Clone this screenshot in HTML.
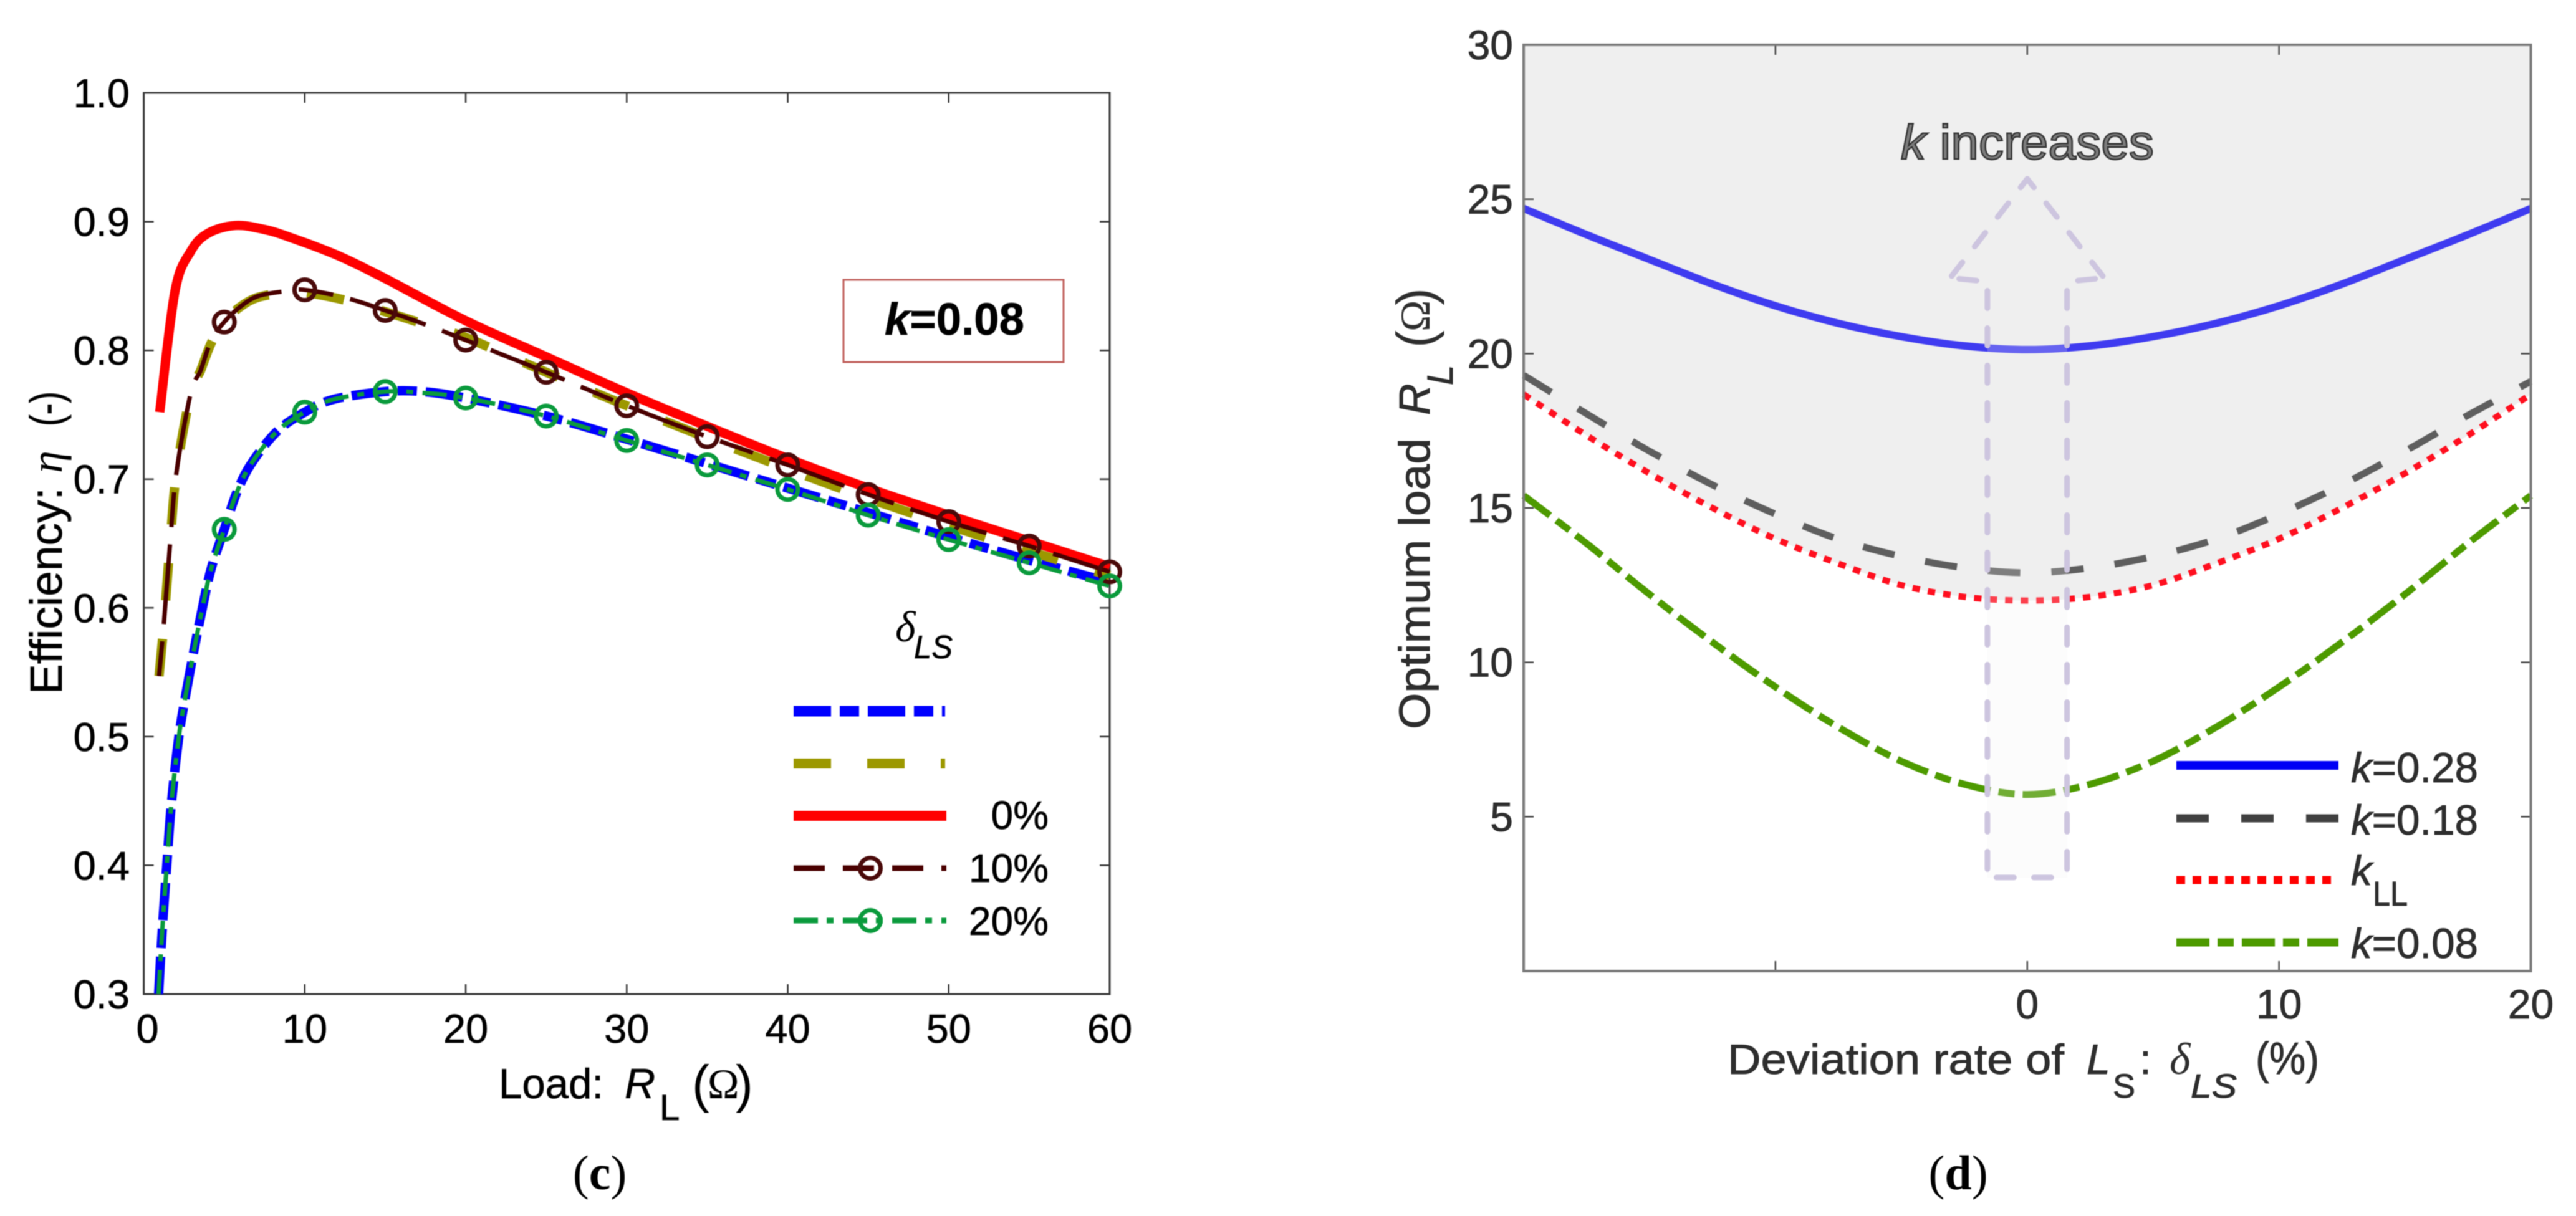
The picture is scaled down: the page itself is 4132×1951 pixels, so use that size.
<!DOCTYPE html>
<html lang="en">
<head>
<meta charset="utf-8">
<title>Efficiency and optimum load charts</title>
<style>
html,body{margin:0;padding:0;background:#fff;width:4132px;height:1951px;overflow:hidden}
svg{display:block;filter:blur(0.7px)}
text{font-family:"Liberation Sans",sans-serif;stroke:#1a1a1a;stroke-width:0.8px}
.serif{font-family:"Liberation Serif",serif}
.c-text{fill:#000}
.d-text{fill:#2e2e2e}
.thin{stroke-width:0}
</style>
</head>
<body>
<svg id="figure" xmlns="http://www.w3.org/2000/svg" width="4132" height="1951" viewBox="0 0 4132 1951">
  <rect x="0" y="0" width="4132" height="1951" fill="#fff"/>

  <g id="chart-c"></g>
  <g id="chart-d"></g>

  <!-- chart c labels -->
  <g transform="translate(99,1114) rotate(-90)" font-size="72" class="c-text">
    <text x="0" y="0" textLength="332" lengthAdjust="spacingAndGlyphs">Efficiency:</text>
    <text class="serif thin" x="355" y="0" font-style="italic">η</text>
    <text x="430" y="0" textLength="56" lengthAdjust="spacingAndGlyphs">(-)</text>
  </g>
  <g class="c-text">
    <text x="800" y="1762" font-size="68" textLength="168" lengthAdjust="spacingAndGlyphs">Load:</text>
    <text x="1002" y="1762" font-size="68" font-style="italic">R</text>
    <text x="1058" y="1797" font-size="58">L</text>
    <text class="thin" x="1110" y="1768" font-size="84">(</text>
    <text class="serif thin" x="1135" y="1762" font-size="68">Ω</text>
    <text class="thin" x="1180" y="1768" font-size="84">)</text>
  </g>
  <text class="serif thin" x="962" y="1908" font-size="78" text-anchor="middle">(<tspan font-weight="bold">c</tspan>)</text>

  <g>
    <rect x="1353" y="449" width="353" height="132" fill="#fff" stroke="#c0605c" stroke-width="3"/>
    <text x="1419" y="537" font-size="72" font-weight="bold" textLength="224" lengthAdjust="spacingAndGlyphs"><tspan font-style="italic">k</tspan>=0.08</text>
  </g>

  <g>
    <text class="serif thin" x="1436" y="1029" font-size="70" font-style="italic">δ</text>
    <text x="1466" y="1056" font-size="52" font-style="italic" textLength="62" lengthAdjust="spacingAndGlyphs">LS</text>
    <line x1="1273" x2="1516" y1="1141" y2="1141" stroke="#0000ff" stroke-width="17" stroke-dasharray="60 14 31 14"/>
    <line x1="1273" x2="1516" y1="1225" y2="1225" stroke="#9c9800" stroke-width="16" stroke-dasharray="60 58"/>
    <line x1="1273" x2="1518" y1="1309" y2="1309" stroke="#ff0000" stroke-width="16"/>
    <text x="1682" y="1330" font-size="64" text-anchor="end">0%</text>
    <line x1="1273" x2="1518" y1="1393" y2="1393" stroke="#4a0000" stroke-width="9" stroke-dasharray="50 29"/>
    <circle cx="1396" cy="1393" r="16.5" fill="none" stroke="#4a0a0a" stroke-width="7"/>
    <text x="1682" y="1415" font-size="64" text-anchor="end">10%</text>
    <line x1="1273" x2="1518" y1="1477" y2="1477" stroke="#0a9a3c" stroke-width="9" stroke-dasharray="39 14 11 15"/>
    <circle cx="1396" cy="1477" r="16.5" fill="none" stroke="#0a9a3c" stroke-width="7"/>
    <text x="1682" y="1500" font-size="64" text-anchor="end">20%</text>
  </g>

  <!-- chart d labels -->
  <g transform="translate(2293,1170) rotate(-90)" font-size="70" class="d-text">
    <text x="0" y="0" textLength="467" lengthAdjust="spacingAndGlyphs">Optimum load</text>
    <text x="504" y="0" font-style="italic">R</text>
    <text x="552" y="37" font-size="58" font-style="italic">L</text>
    <text class="thin" x="612" y="6" font-size="84">(</text>
    <text class="serif thin" x="638" y="0" font-size="68">Ω</text>
    <text class="thin" x="680" y="6" font-size="84">)</text>
  </g>
  <g class="d-text">
    <text x="2771" y="1723" font-size="68" textLength="540" lengthAdjust="spacingAndGlyphs">Deviation rate of</text>
    <text x="3347" y="1723" font-size="68" font-style="italic">L</text>
    <text x="3389" y="1761" font-size="54">S</text>
    <text x="3432" y="1723" font-size="68">:</text>
    <text class="serif thin" x="3480" y="1723" font-size="72" font-style="italic">δ</text>
    <text x="3514" y="1761" font-size="54" font-style="italic" textLength="74" lengthAdjust="spacingAndGlyphs">LS</text>
    <text x="3618" y="1723" font-size="72" textLength="102" lengthAdjust="spacingAndGlyphs">(%)</text>
  </g>
  <text class="serif thin" x="3141" y="1908" font-size="78" text-anchor="middle">(<tspan font-weight="bold">d</tspan>)</text>

  <text x="3049" y="255" font-size="78" fill="#7c7c7c" style="stroke:#343434;stroke-width:2.4px" textLength="406" lengthAdjust="spacingAndGlyphs"><tspan font-style="italic">k</tspan> increases</text>

  <g class="d-text">
    <line x1="3491" x2="3751" y1="1228" y2="1228" stroke="#0000f5" stroke-width="14"/>
    <text x="3771" y="1255" font-size="68" textLength="204" lengthAdjust="spacingAndGlyphs"><tspan font-style="italic">k</tspan>=0.28</text>
    <line x1="3491" x2="3751" y1="1313" y2="1313" stroke="#404040" stroke-width="13" stroke-dasharray="52 52"/>
    <text x="3771" y="1339" font-size="68" textLength="204" lengthAdjust="spacingAndGlyphs"><tspan font-style="italic">k</tspan>=0.18</text>
    <line x1="3491" x2="3740" y1="1412" y2="1412" stroke="#ff0000" stroke-width="13" stroke-dasharray="14 12"/>
    <text x="3771" y="1420" font-size="68" font-style="italic">k</text>
    <text x="3806" y="1453" font-size="56" textLength="56" lengthAdjust="spacingAndGlyphs">LL</text>
    <line x1="3491" x2="3751" y1="1512" y2="1512" stroke="#4d9a00" stroke-width="13" stroke-dasharray="53 13 26 13"/>
    <text x="3771" y="1537" font-size="68" textLength="204" lengthAdjust="spacingAndGlyphs"><tspan font-style="italic">k</tspan>=0.08</text>
  </g>
</svg>

<script>
// ---- chart (c) data ----
const redLoad = [0.99, 1.94, 2.92, 4.0, 5.68, 7.46, 9.04, 12, 14.96, 20, 25, 30, 35, 40, 45, 50, 55, 60];
const redEff = [0.752, 0.846, 0.877, 0.891, 0.897, 0.894, 0.888, 0.874, 0.856, 0.823, 0.795, 0.767, 0.741, 0.716, 0.693, 0.672, 0.652, 0.632];
const maroonLoad = [0.95, 1.25, 1.64, 2.03, 2.92, 3.52, 4.2, 5, 5.9, 7.06, 8.84, 10, 12.5, 15, 17.5, 20, 25, 30, 35, 40, 45, 50, 55, 60];
const maroonEff = [0.547, 0.588, 0.651, 0.705, 0.767, 0.784, 0.808, 0.822, 0.833, 0.842, 0.846, 0.847, 0.841, 0.831, 0.82, 0.808, 0.783, 0.757, 0.733, 0.711, 0.688, 0.667, 0.648, 0.628];
const oliveEff = [0.547, 0.588, 0.651, 0.705, 0.767, 0.784, 0.806, 0.822, 0.833, 0.841, 0.845, 0.845, 0.839, 0.83, 0.82, 0.81, 0.783, 0.757, 0.732, 0.708, 0.685, 0.664, 0.644, 0.625];
const greenLoad = [0.92, 1.15, 1.43, 1.73, 2.18, 2.57, 3.1, 3.71, 4.2, 5, 5.79, 6.68, 8.27, 10, 11.8, 15, 17.3, 20, 25, 30, 35, 40, 45, 50, 55, 60];
const greenEff = [0.30, 0.35, 0.40, 0.45, 0.50, 0.53, 0.566, 0.604, 0.631, 0.661, 0.69, 0.712, 0.737, 0.752, 0.762, 0.768, 0.767, 0.763, 0.749, 0.730, 0.711, 0.692, 0.672, 0.653, 0.635, 0.617];
const blueEff = [0.30, 0.35, 0.40, 0.45, 0.50, 0.53, 0.566, 0.604, 0.631, 0.661, 0.69, 0.712, 0.737, 0.752, 0.762, 0.768, 0.768, 0.763, 0.749, 0.731, 0.712, 0.693, 0.674, 0.655, 0.637, 0.62];
const markerLoad = [5, 10, 15, 20, 25, 30, 35, 40, 45, 50, 55, 60];
const markerMaroonEff = [0.822, 0.847, 0.831, 0.808, 0.783, 0.757, 0.733, 0.711, 0.688, 0.667, 0.648, 0.628];
const markerGreenEff = [0.661, 0.752, 0.768, 0.763, 0.749, 0.730, 0.711, 0.692, 0.672, 0.653, 0.635, 0.617];
const cXTicks = [0, 10, 20, 30, 40, 50, 60];
const cYTicks = [0.3, 0.4, 0.5, 0.6, 0.7, 0.8, 0.9, 1.0];
const cYTickLabels = ["0.3", "0.4", "0.5", "0.6", "0.7", "0.8", "0.9", "1.0"];

// ---- chart (d) data ----
const deviation = [-20, -17.5, -15, -12.5, -10, -7.5, -5, -2.5, 0, 2.5, 5, 7.5, 10, 12.5, 15, 17.5, 20];
const k028Load = [24.7, 23.85, 23.05, 22.25, 21.55, 20.98, 20.55, 20.25, 20.13, 20.25, 20.55, 20.98, 21.55, 22.25, 23.05, 23.85, 24.7];
const k018Load = [19.3, 18.05, 16.84, 15.75, 14.8, 13.99, 13.43, 13.06, 12.9, 13.06, 13.43, 13.99, 14.8, 15.75, 16.84, 18.0, 19.1];
const kllLoad = [18.68, 17.35, 16.12, 15.0, 14.0, 13.2, 12.5, 12.12, 12.0, 12.12, 12.5, 13.2, 14.0, 15.0, 16.12, 17.35, 18.68];
const k008Load = [15.4, 13.85, 12.2, 10.65, 9.2, 7.9, 6.8, 6.05, 5.72, 6.05, 6.8, 7.9, 9.2, 10.65, 12.2, 13.85, 15.4];
const dXTicks = [-20, -10, 0, 10, 20];
const dXTickLabels = ["", "", "0", "10", "20"];
const dYTicks = [0, 5, 10, 15, 20, 25, 30];
const dYTickLabels = ["", "5", "10", "15", "20", "25", "30"];
const arrowDev = [-1.58, -1.58, -3.06, 0, 3.06, 1.58, 1.58];
const arrowLoad = [3.03, 22.33, 22.45, 25.66, 22.45, 22.33, 3.03];

// ---- axis functions ----
const C = {l: 230.6, r: 1780, t: 149, b: 1595};
const D = {l: 2444, r: 4059.5, t: 72, b: 1558};
const xC = v => C.l + (v - 0) / 60 * (C.r - C.l);
const yC = v => C.b - (v - 0.3) / 0.7 * (C.b - C.t);
const xD = v => D.l + (v + 20) / 40 * (D.r - D.l);
const yD = v => D.b - v / 30 * (D.b - D.t);

const NS = 'http://www.w3.org/2000/svg';
function mk(parent, tag, attrs, txt) {
  const el = document.createElementNS(NS, tag);
  for (const k in attrs) el.setAttribute(k, attrs[k]);
  if (txt !== undefined) el.textContent = txt;
  parent.appendChild(el);
  return el;
}
function linePath(xs, ys, fx, fy) {
  return xs.map((v, i) => (i ? 'L' : 'M') + fx(v).toFixed(1) + ' ' + fy(ys[i]).toFixed(1)).join(' ');
}
function smoothPath(xs, ys, fx, fy) {
  const p = xs.map((v, i) => [fx(v), fy(ys[i])]);
  let d = 'M' + p[0][0].toFixed(1) + ' ' + p[0][1].toFixed(1);
  for (let i = 0; i < p.length - 1; i++) {
    const a = p[Math.max(i - 1, 0)], b = p[i], c = p[i + 1], e = p[Math.min(i + 2, p.length - 1)];
    d += ' C' + (b[0] + (c[0] - a[0]) / 6).toFixed(1) + ' ' + (b[1] + (c[1] - a[1]) / 6).toFixed(1) + ' ' +
         (c[0] - (e[0] - b[0]) / 6).toFixed(1) + ' ' + (c[1] - (e[1] - b[1]) / 6).toFixed(1) + ' ' +
         c[0].toFixed(1) + ' ' + c[1].toFixed(1);
  }
  return d;
}

// ---- chart (c) ----
const gc = document.getElementById('chart-c');
let el;
const TICK = 16;

cXTicks.forEach((v, i) => {
  el = mk(gc, 'line', {x1: xC(v), x2: xC(v), y1: C.b, y2: C.b - TICK, stroke: '#333', 'stroke-width': 2.5});
  
  
  el = mk(gc, 'line', {x1: xC(v), x2: xC(v), y1: C.t, y2: C.t + TICK, stroke: '#333', 'stroke-width': 2.5});
  
  
  el = mk(gc, 'text', {x: xC(v) + (v === 0 ? 6 : 0), y: 1673, 'font-size': 65, 'text-anchor': 'middle', fill: '#000'}, String(v));
  
  
});
cYTicks.forEach((v, i) => {
  el = mk(gc, 'line', {x1: C.l, x2: C.l + TICK, y1: yC(v), y2: yC(v), stroke: '#333', 'stroke-width': 2.5});
  
  
  el = mk(gc, 'line', {x1: C.r, x2: C.r - TICK, y1: yC(v), y2: yC(v), stroke: '#333', 'stroke-width': 2.5});
  
  
  el = mk(gc, 'text', {x: 208, y: yC(v) + 23, 'font-size': 65, 'text-anchor': 'end', fill: '#000'}, cYTickLabels[i]);
  
  
});
el = mk(gc, 'rect', {x: C.l, y: C.t, width: C.r - C.l, height: C.b - C.t, fill: 'none', stroke: '#3a3a3a', 'stroke-width': 3});



el = mk(gc, 'path', {d: smoothPath(greenLoad, blueEff, xC, yC), fill: 'none', stroke: '#0000ff', 'stroke-width': 15, 'stroke-dasharray': '60 14 31 14'});


el = mk(gc, 'path', {d: smoothPath(maroonLoad, oliveEff, xC, yC), fill: 'none', stroke: '#9c9800', 'stroke-width': 15, 'stroke-dasharray': '60 62'});


el = mk(gc, 'path', {d: smoothPath(redLoad, redEff, xC, yC), fill: 'none', stroke: '#ff0000', 'stroke-width': 15, 'stroke-linejoin': 'round'});


el = mk(gc, 'path', {d: smoothPath(maroonLoad, maroonEff, xC, yC), fill: 'none', stroke: '#4a0000', 'stroke-width': 7, 'stroke-dasharray': '128 28 56 28', 'stroke-dashoffset': 156});


el = mk(gc, 'path', {d: smoothPath(greenLoad, greenEff, xC, yC), fill: 'none', stroke: '#0a9a3c', 'stroke-width': 7, 'stroke-dasharray': '39 14 11 15'});



markerLoad.forEach((v, i) => {
  el = mk(gc, 'circle', {cx: xC(v), cy: yC(markerMaroonEff[i]), r: 16.5, fill: 'none', stroke: '#4a0a0a', 'stroke-width': 7});
  
  
  el = mk(gc, 'circle', {cx: xC(v), cy: yC(markerGreenEff[i]), r: 16.5, fill: 'none', stroke: '#0a9a3c', 'stroke-width': 7});
  
  
});

// ---- chart (d) ----
const gd = document.getElementById('chart-d');

const shade = smoothPath(deviation, kllLoad, xD, yD) + ' L' + xD(20) + ' ' + yD(30) + ' L' + xD(-20) + ' ' + yD(30) + ' Z';
el = mk(gd, 'path', {d: shade, fill: '#efefef'});



el = mk(gd, 'path', {d: smoothPath(deviation, k028Load, xD, yD), fill: 'none', stroke: '#3f3bf0', 'stroke-width': 12});


el = mk(gd, 'path', {d: smoothPath(deviation, k018Load, xD, yD), fill: 'none', stroke: '#5e5e5e', 'stroke-width': 11, 'stroke-dasharray': '52 50'});


el = mk(gd, 'path', {d: smoothPath(deviation, kllLoad, xD, yD), fill: 'none', stroke: '#ff0f1f', 'stroke-width': 10, 'stroke-dasharray': '12 13'});


el = mk(gd, 'path', {d: smoothPath(deviation, k008Load, xD, yD), fill: 'none', stroke: '#4d9a00', 'stroke-width': 11, 'stroke-dasharray': '53 13 26 13'});



// arrow: fill first, then separately dashed outline pieces
el = mk(gd, 'path', {d: linePath(arrowDev, arrowLoad, xD, yD) + ' Z', fill: 'rgba(240,240,240,0.22)'});


const arrowStroke = {fill: 'none', stroke: '#cdc5df', 'stroke-width': 9, 'stroke-dasharray': '28 32', 'stroke-linecap': 'round'};
function arrowPiece(idx, offset) {
  return mk(gd, 'path', Object.assign({d: linePath(idx.map(i => arrowDev[i]), idx.map(i => arrowLoad[i]), xD, yD), 'stroke-dashoffset': offset}, arrowStroke));
}
el = arrowPiece([1, 0], -14.5);


el = arrowPiece([5, 6], -14.5);


el = arrowPiece([3, 2], 10.5);


el = arrowPiece([3, 4], 10.5);


el = arrowPiece([2, 1], -14.5);


el = arrowPiece([4, 5], -14.5);


el = arrowPiece([0, 6], -14.5);



dXTicks.forEach((v, i) => {
  el = mk(gd, 'line', {x1: xD(v), x2: xD(v), y1: D.b, y2: D.b - TICK, stroke: '#444', 'stroke-width': 2.5});
  
  
  el = mk(gd, 'line', {x1: xD(v), x2: xD(v), y1: D.t, y2: D.t + TICK, stroke: '#444', 'stroke-width': 2.5});
  
  
  if (dXTickLabels[i]) {
    el = mk(gd, 'text', {x: xD(v), y: 1634, 'font-size': 66, 'text-anchor': 'middle', fill: '#2e2e2e'}, dXTickLabels[i]);
    
    
  }
});
dYTicks.forEach((v, i) => {
  el = mk(gd, 'line', {x1: D.l, x2: D.l + TICK, y1: yD(v), y2: yD(v), stroke: '#444', 'stroke-width': 2.5});
  
  
  el = mk(gd, 'line', {x1: D.r, x2: D.r - TICK, y1: yD(v), y2: yD(v), stroke: '#444', 'stroke-width': 2.5});
  
  
  if (dYTickLabels[i]) {
    el = mk(gd, 'text', {x: 2427, y: yD(v) + 23, 'font-size': 66, 'text-anchor': 'end', fill: '#2e2e2e'}, dYTickLabels[i]);
    
    
  }
});
el = mk(gd, 'rect', {x: D.l, y: D.t, width: D.r - D.l, height: D.b - D.t, fill: 'none', stroke: '#7a7a7a', 'stroke-width': 4});


</script>
</body>
</html>
